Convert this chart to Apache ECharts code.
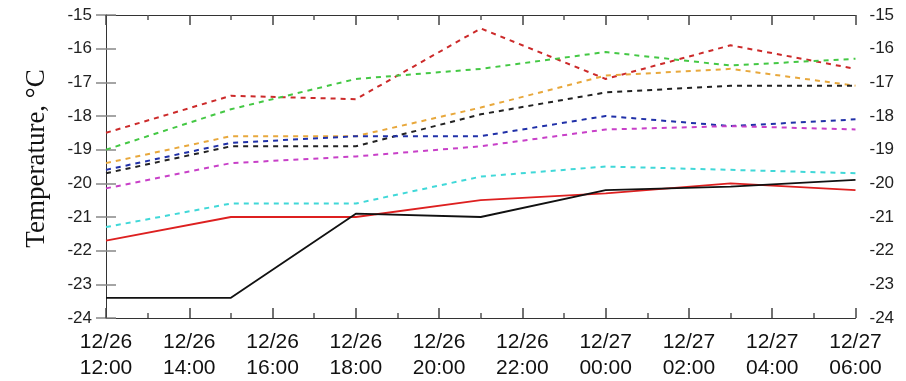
<!DOCTYPE html>
<html>
<head>
<meta charset="utf-8">
<script src="https://cdn.jsdelivr.net/npm/echarts@6/dist/echarts.min.js"></script>
<style>
html,body{margin:0;padding:0;background:#fff;}
#chart{width:906px;height:381px;}
</style>
</head>
<body>
<div id="chart"></div>
<script>
// Hours since 12/26 12:00
const hours = [0, 3, 6, 9, 12, 15, 18];
const xTickLabels = ['12/26\n12:00','12/26\n14:00','12/26\n16:00','12/26\n18:00','12/26\n20:00','12/26\n22:00','12/27\n00:00','12/27\n02:00','12/27\n04:00','12/27\n06:00'];

const redDash     = [-18.5, -17.4, -17.5, -15.4, -16.9, -15.9, -16.6];
const greenDash   = [-19.0, -17.8, -16.9, -16.6, -16.1, -16.5, -16.3];
const orangeDash  = [-19.4, -18.6, -18.6, -17.75, -16.8, -16.6, -17.1];
const blackDash   = [-19.7, -18.9, -18.9, -17.95, -17.3, -17.1, -17.1];
const navyDash    = [-19.6, -18.8, -18.6, -18.6, -18.0, -18.3, -18.1];
const magentaDash = [-20.15, -19.4, -19.2, -18.9, -18.4, -18.3, -18.4];
const cyanDash    = [-21.3, -20.6, -20.6, -19.8, -19.5, -19.6, -19.7];
const redSolid    = [-21.7, -21.0, -21.0, -20.5, -20.3, -20.0, -20.2];
const blackSolid  = [-23.4, -23.4, -20.9, -21.0, -20.2, -20.1, -19.9];

const seriesDefs = [
  {data: redDash, color: '#cc2a2a', dashed: true},
  {data: greenDash, color: '#44c844', dashed: true},
  {data: orangeDash, color: '#e8a83c', dashed: true},
  {data: blackDash, color: '#222222', dashed: true},
  {data: navyDash, color: '#2030a8', dashed: true},
  {data: magentaDash, color: '#c840c8', dashed: true},
  {data: cyanDash, color: '#40d8d8', dashed: true},
  {data: redSolid, color: '#dd2020', dashed: false},
  {data: blackSolid, color: '#111111', dashed: false}
];

const chart = echarts.init(document.getElementById('chart'), null, {renderer: 'canvas'});

function xAxisDef(pos) {
  return {
    type: 'value', min: 0, max: 18, interval: 2, position: pos,
    splitLine: {show: false},
    axisLine: {show: true, lineStyle: {color: '#333', width: 1}},
    axisTick: {show: true, inside: true, length: 10, lineStyle: {color: '#444', width: 1.5}},
    minorTick: {show: true, splitNumber: 2, length: 5, lineStyle: {color: '#555', width: 1.5}},
    axisLabel: pos === 'bottom' ? {
      fontFamily: 'Liberation Sans', fontSize: 21, lineHeight: 26, color: '#111', margin: 11,
      formatter: v => xTickLabels[Math.round(v / 2)] || ''
    } : {show: false}
  };
}
function yAxisDef(pos) {
  const def = {
    type: 'value', min: -24, max: -15, interval: 1, position: pos,
    splitLine: {show: false},
    axisLine: {show: true, lineStyle: {color: '#333', width: 1}},
    axisTick: {show: true, inside: true, length: 10, lineStyle: {color: '#888', width: 1.5}},
    axisLabel: {fontFamily: 'Liberation Sans', fontSize: 17, color: '#222', margin: 14}
  };
  if (pos === 'left') {
    def.name = 'Temperature, °C';
    def.nameLocation = 'middle';
    def.nameGap = 56;
    def.nameTextStyle = {fontFamily: 'Liberation Serif', fontSize: 27, color: '#111', padding: [0, 0, 0, 16]};
  }
  return def;
}

chart.setOption({
  animation: false,
  backgroundColor: '#fff',
  grid: {left: 106, right: 50.5, top: 15, bottom: 61.5},
  xAxis: [xAxisDef('bottom'), xAxisDef('top')],
  yAxis: [yAxisDef('left'), yAxisDef('right')],
  series: seriesDefs.map(s => ({
    type: 'line',
    xAxisIndex: 0, yAxisIndex: 0,
    data: hours.map((h, i) => [h, s.data[i]]),
    showSymbol: false,
    symbol: 'none',
    lineStyle: {color: s.color, width: s.dashed ? 2 : 1.8, type: s.dashed ? [5, 5] : 'solid'},
    z: s.dashed ? 2 : 3
  }))
});
</script>
</body>
</html>
